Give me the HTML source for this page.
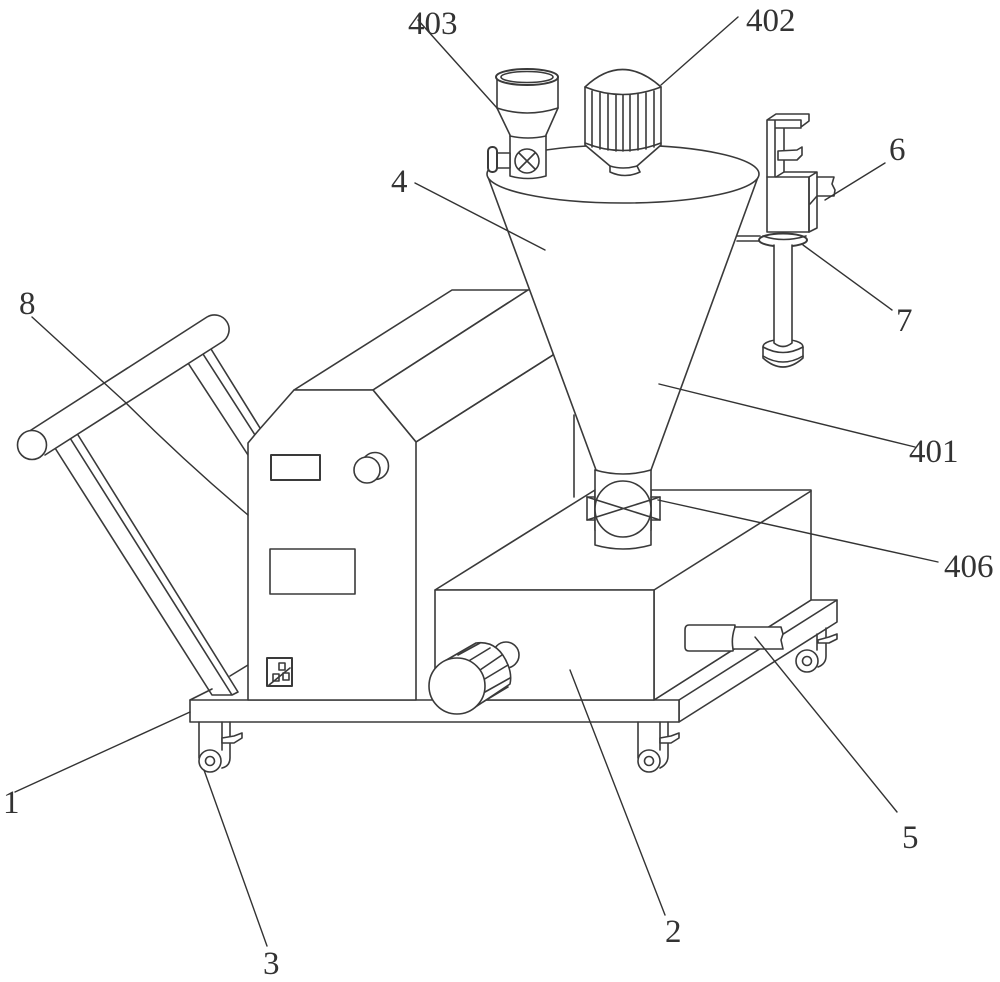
<!DOCTYPE html>
<html><head><meta charset="utf-8">
<style>html,body{margin:0;padding:0;background:#fff}svg{display:block}
text{font-family:"Liberation Serif",serif;font-size:33px;fill:#333}</style></head>
<body>
<svg width="1000" height="982" viewBox="0 0 1000 982" xmlns="http://www.w3.org/2000/svg" fill="none" stroke="#3a3a3a" stroke-width="1.6" stroke-linejoin="round" stroke-linecap="round">
<rect width="1000" height="982" fill="#fff" stroke="none"/>

<!-- rear cabinet body -->
<path d="M294 390L452 290H528L373 390Z" fill="#fff"/>
<path d="M373 390L528 290L560 290L553 355L416 442Z" fill="#fff"/>
<path d="M416 442L553 355M574 415V497"/>

<!-- hand truck handle -->
<path d="M188 363L248 455M203 354L255 435M211 349L260 428"/>
<path d="M248 665L230 676M190 700L212 689"/>
<path d="M55 448L212 695H232L238 692L78 435M70 438L232 695"/>
<path d="M28 432L207 317A14.5 14.5 0 0 1 222 342L45 455" fill="#fff"/>
<circle cx="32" cy="445" r="14.5" fill="#fff"/>

<!-- platform -->
<path d="M679 700L837 600V622L679 722Z" fill="#fff"/>
<path d="M654 700L811 600H837"/>
<rect x="190" y="700" width="489" height="22" fill="#fff"/>

<!-- casters -->
<g>
<path d="M199 722V758M222 722V750M230 722V758Q230 766 222 768"/>
<path d="M222 738L234 736L242 733V738L234 743H222Z" fill="#fff"/>
<circle cx="210" cy="761" r="11" fill="#fff"/><circle cx="210" cy="761" r="4.5"/>
</g>
<g>
<path d="M638 722V758M660 722V750M668 722V756Q668 764 660 768"/>
<path d="M660 738L671 736L679 733V738L671 743H660Z" fill="#fff"/>
<circle cx="649" cy="761" r="11" fill="#fff"/><circle cx="649" cy="761" r="4.5"/>
</g>
<g>
<path d="M817 634V650M826 628V656Q826 664 818 667"/>
<path d="M818 640L829 637L837 634V639L829 643H818Z" fill="#fff"/>
<circle cx="807" cy="661" r="11" fill="#fff"/><circle cx="807" cy="661" r="4.5"/>
</g>

<!-- cabinet front -->
<path d="M248 700V443L258 431L294 390H373L416 442V700Z" fill="#fff"/>
<rect x="271" y="455" width="49" height="25" stroke-width="2"/>
<circle cx="375" cy="466" r="13.5" fill="#fff"/><circle cx="367" cy="470" r="13" fill="#fff"/>
<rect x="270" y="549" width="85" height="45"/>
<rect x="267" y="658" width="25" height="28" stroke-width="2"/>
<path d="M269 685L290 668"/>
<rect x="279" y="663" width="6" height="7"/><rect x="273" y="674" width="6" height="7"/><rect x="283" y="673" width="6" height="7"/>

<!-- hopper box -->
<path d="M435 590L595 490H811V600L654 700V590Z" fill="#fff"/>
<rect x="435" y="590" width="219" height="110" fill="#fff"/>
<path d="M654 590L811 491"/>

<!-- motor bottom -->
<circle cx="506" cy="655" r="13" fill="#fff"/>
<path d="M443 662L476 643Q498 640 508 665Q512 675 510 684L471 710Z" fill="#fff"/>
<path d="M458 655L480 643M467 662L490 648M480 670L502 655M483 680L508 665M485 692L510 678M483 702L508 687"/>
<circle cx="457" cy="686" r="28" fill="#fff"/>

<!-- pipe 5 -->
<path d="M735 625H689Q685 625 685 630V647Q685 651 689 651H733Z" fill="#fff"/>
<path d="M735 627H781L783 634L781 640L783 649H733Q731 638 735 627Z" fill="#fff"/>

<!-- cone -->
<path d="M488 177L596 470Q623 480 651 470L758 177Z" fill="#fff"/>
<ellipse cx="623" cy="174" rx="136" ry="29" fill="#fff"/>
<path d="M595 470V545Q623 553 651 545V470" fill="#fff"/>
<path d="M595 470Q623 478 651 470"/>
<rect x="595" y="490" width="56" height="40" fill="#fff" stroke="none"/>
<path d="M595 490V530M651 490V530"/>
<circle cx="623" cy="509" r="28" fill="#fff"/>
<path d="M587 497L660 520M587 520L660 497"/>
<path d="M587 497H595M587 520H595M651 497H660M651 520H660M587 497V520M660 497V520"/>

<!-- funnel 403 -->
<path d="M497 77V108L510 135V176Q528 181 546 176V135L558 108V77Z" fill="#fff"/>
<path d="M497 108Q527 118 558 108M510 136Q528 140 546 136"/>
<ellipse cx="527" cy="77" rx="31" ry="8" fill="#fff" stroke-width="2"/>
<ellipse cx="527" cy="77" rx="26" ry="5.5"/>
<circle cx="527" cy="161" r="12"/><path d="M519 153L535 169M535 153L519 169"/>
<rect x="495" y="153" width="15" height="15" fill="#fff"/>
<rect x="488" y="147" width="9" height="25" rx="4" fill="#fff" stroke-width="2"/>

<!-- motor 402 -->
<path d="M585 87Q622 52 661 87V145L637 166L640 172Q625 179 610 172V166L585 145Z" fill="#fff"/>
<path d="M585 87Q622 102 661 87M585 143Q622 158 661 143M610 166Q623 170 637 166"/>
<path d="M592 91V147M600 93V149M608 94V150M616 95V151M623 95V151M630 95V151M638 94V150M646 93V149M654 91V147"/>

<!-- bracket 6/7 -->
<path d="M737 236H760M737 241H760"/>
<path d="M767 177V120L776 114H809V121L801 127V120H767M775 120V177M784 128V172M775 128H801"/>
<path d="M778 151L797 150L802 147V155L797 160H778Z" fill="#fff"/>
<rect x="767" y="177" width="42" height="55" fill="#fff"/>
<path d="M776 177L784 172H817L809 177M817 172V228L809 232V177"/>
<path d="M817 177H834L832 184L835 190L834 196H817L810 204"/>
<ellipse cx="783" cy="240" rx="24" ry="6.5" fill="#fff" stroke-width="2"/>
<path d="M763 236Q783 243 806 236"/>
<path d="M763 347C763 337 803 337 803 347V358Q783 376 763 358Z" fill="#fff"/>
<path d="M763 347Q783 358 803 347M763 356Q783 368 803 356"/>
<path d="M774 245V343Q783 350 792 343V245" fill="#fff"/>

<!-- leaders -->
<g stroke="#333" stroke-width="1.4">
<path d="M418 20L497 108M738 17L661 85M415 183L545 250M659 384L915 447M658 500L938 562M885 163L825 200M803 245L892 310M32 317L125 402Q185 462 248 515M15 792L190 712M204 770L267 946M570 670L665 915M755 637L897 812"/>
</g>

<!-- labels -->
<g stroke="none">
<text x="408" y="34">403</text>
<text x="746" y="31">402</text>
<text x="391" y="192">4</text>
<text x="889" y="160">6</text>
<text x="896" y="331">7</text>
<text x="909" y="462">401</text>
<text x="944" y="577">406</text>
<text x="19" y="314">8</text>
<text x="3" y="813">1</text>
<text x="263" y="974">3</text>
<text x="902" y="848">5</text>
<text x="665" y="942">2</text>
</g>
</svg>
</body></html>
